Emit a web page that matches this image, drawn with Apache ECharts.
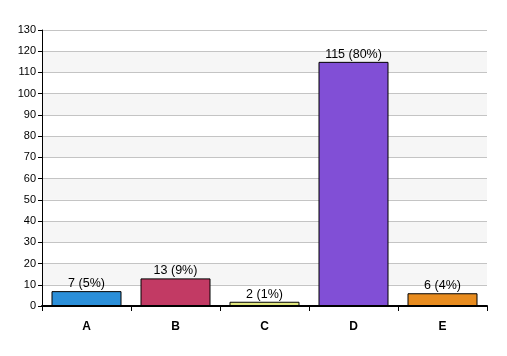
<!DOCTYPE html>
<html><head><meta charset="utf-8">
<script src="https://cdn.jsdelivr.net/npm/echarts@6/dist/echarts.min.js"></script>
<style>html,body{margin:0;padding:0;background:#fff}#c{width:507px;height:356px}</style>
</head><body><div id="c"></div>
<script>
var categories = ['A','B','C','D','E'];
var counts = [7,13,2,115,6];
var percents = ['5%','9%','1%','80%','4%'];
var colors = ['#2b8fd9','#c23a64','#e2e87e','#814fd6','#e88c1f'];
var yTicks = {min:0, max:130, interval:10};

var chart = echarts.init(document.getElementById('c'), null, {renderer:'canvas'});
chart.setOption({
  animation:false,
  backgroundColor:'#fff',
  grid:{left:42, right:20, top:30, bottom:50},
  xAxis:{
    type:'category', data:categories,
    axisLine:{lineStyle:{color:'#000', width:2}},
    axisTick:{show:true, alignWithLabel:false, length:5, lineStyle:{color:'#000'}},
    axisLabel:{color:'#000', fontWeight:'bold', fontSize:12, fontFamily:'Liberation Sans, Arial', margin:15}
  },
  yAxis:{
    type:'value', min:yTicks.min, max:yTicks.max, interval:yTicks.interval,
    axisLine:{show:true, lineStyle:{color:'#000', width:1}},
    axisTick:{show:true, length:4, lineStyle:{color:'#000'}},
    axisLabel:{color:'#000', fontSize:11, fontFamily:'Liberation Sans, Arial', margin:6},
    splitLine:{lineStyle:{color:'#c4c4c4'}},
    splitArea:{show:true, areaStyle:{color:['rgba(255,255,255,0)','#f6f6f6']}}
  },
  series:[{
    type:'bar', barWidth:70,
    data:counts.map(function(v,i){return {value:v, itemStyle:{color:colors[i]}};}),
    itemStyle:{borderColor:'#000', borderWidth:1},
    label:{show:true, position:'top', distance:1, color:'#000', fontSize:12.5, fontFamily:'Liberation Sans, Arial',
      formatter:function(p){return counts[p.dataIndex]+' ('+percents[p.dataIndex]+')';}}
  }]
});
</script></body></html>
